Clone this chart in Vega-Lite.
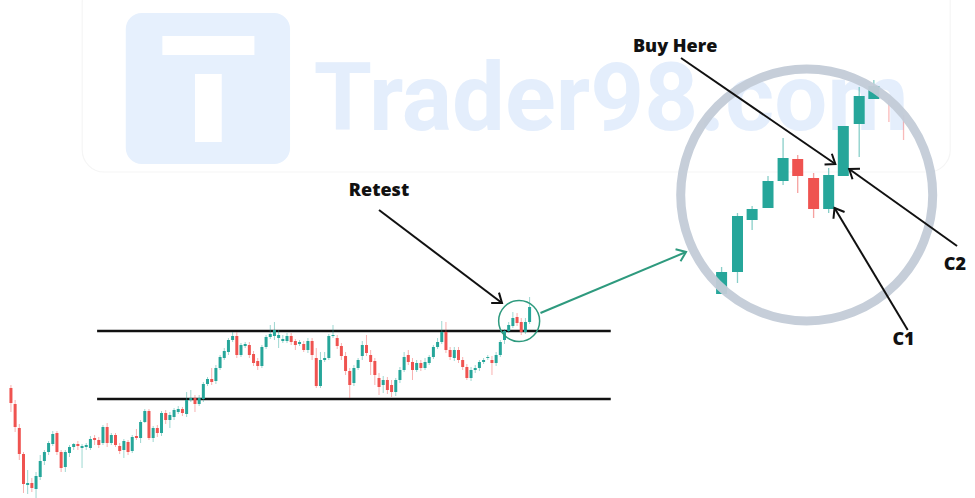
{
  "$schema": "https://vega.github.io/schema/vega-lite/v6.json",
  "width": 975,
  "height": 498,
  "autosize": {"type": "none"},
  "padding": 0,
  "background": "white",
  "config": {"view": {"stroke": null}},
  "datasets": {
    "frame": [{"t1": 17.04, "t2": 224.56, "p1": 518, "p2": 326}],
    "tile": [{"t1": 27.45, "t2": 66.73, "p1": 485, "p2": 334}],
    "glyph": [
      {"t1": 36.2, "t2": 58.21, "p1": 462, "p2": 443},
      {"t1": 44.01, "t2": 50.4, "p1": 424, "p2": 356}
    ],
    "brand": [{"t": 72.4, "p": 368, "label": "Trader98.com"}],
    "levels": [
      {"t1": 20.6, "t2": 143.4, "p": 167},
      {"t1": 20.6, "t2": 143.4, "p": 99}
    ],
    "main": [
      {"t":0,"o":110,"h":113,"l":86,"c":95},
      {"t":1,"o":94,"h":98,"l":66,"c":71},
      {"t":2,"o":70,"h":74,"l":38,"c":44},
      {"t":3,"o":44,"h":46,"l":5,"c":14},
      {"t":4,"o":13,"h":28,"l":4,"c":15},
      {"t":5,"o":15,"h":20,"l":6,"c":10},
      {"t":6,"o":9,"h":26,"l":0,"c":22},
      {"t":7,"o":21,"h":43,"l":18,"c":37},
      {"t":8,"o":37,"h":48,"l":33,"c":46},
      {"t":9,"o":46,"h":57,"l":43,"c":55},
      {"t":10,"o":54,"h":67,"l":52,"c":64},
      {"t":11,"o":65,"h":67,"l":43,"c":46},
      {"t":12,"o":46,"h":48,"l":26,"c":30},
      {"t":13,"o":31,"h":48,"l":26,"c":46},
      {"t":14,"o":45,"h":53,"l":41,"c":51},
      {"t":15,"o":51,"h":55,"l":48,"c":54},
      {"t":16,"o":54,"h":57,"l":48,"c":52},
      {"t":17,"o":50,"h":54,"l":30,"c":52},
      {"t":18,"o":51,"h":55,"l":48,"c":53},
      {"t":19,"o":50,"h":62,"l":48,"c":59},
      {"t":20,"o":60,"h":63,"l":53,"c":58},
      {"t":21,"o":58,"h":61,"l":50,"c":53},
      {"t":22,"o":55,"h":73,"l":53,"c":71},
      {"t":23,"o":71,"h":75,"l":51,"c":55},
      {"t":24,"o":55,"h":65,"l":53,"c":63},
      {"t":25,"o":63,"h":65,"l":51,"c":53},
      {"t":26,"o":52,"h":55,"l":44,"c":47},
      {"t":27,"o":48,"h":59,"l":40,"c":57},
      {"t":28,"o":56,"h":58,"l":43,"c":46},
      {"t":29,"o":47,"h":63,"l":45,"c":61},
      {"t":30,"o":62,"h":69,"l":58,"c":60},
      {"t":31,"o":60,"h":78,"l":55,"c":76},
      {"t":32,"o":76,"h":89,"l":75,"c":87},
      {"t":33,"o":87,"h":89,"l":58,"c":60},
      {"t":34,"o":60,"h":72,"l":56,"c":70},
      {"t":35,"o":70,"h":73,"l":61,"c":65},
      {"t":36,"o":65,"h":87,"l":62,"c":85},
      {"t":37,"o":85,"h":88,"l":74,"c":78},
      {"t":38,"o":78,"h":86,"l":70,"c":83},
      {"t":39,"o":81,"h":90,"l":78,"c":88},
      {"t":40,"o":86,"h":92,"l":84,"c":89},
      {"t":41,"o":89,"h":91,"l":82,"c":85},
      {"t":42,"o":84,"h":106,"l":81,"c":98},
      {"t":43,"o":98,"h":108,"l":96,"c":100},
      {"t":44,"o":100,"h":103,"l":86,"c":94},
      {"t":45,"o":94,"h":103,"l":92,"c":100},
      {"t":46,"o":99,"h":116,"l":96,"c":114},
      {"t":47,"o":114,"h":121,"l":112,"c":119},
      {"t":48,"o":119,"h":130,"l":113,"c":116},
      {"t":49,"o":117,"h":133,"l":114,"c":130},
      {"t":50,"o":130,"h":143,"l":128,"c":141},
      {"t":51,"o":140,"h":150,"l":138,"c":147},
      {"t":52,"o":146,"h":160,"l":143,"c":158},
      {"t":53,"o":158,"h":166,"l":156,"c":162},
      {"t":54,"o":162,"h":166,"l":140,"c":143},
      {"t":55,"o":143,"h":155,"l":141,"c":153},
      {"t":56,"o":152,"h":156,"l":150,"c":154},
      {"t":57,"o":153,"h":156,"l":140,"c":143},
      {"t":58,"o":144,"h":147,"l":132,"c":135},
      {"t":59,"o":137,"h":140,"l":128,"c":132},
      {"t":60,"o":132,"h":153,"l":130,"c":151},
      {"t":61,"o":151,"h":163,"l":149,"c":161},
      {"t":62,"o":161,"h":173,"l":159,"c":164},
      {"t":63,"o":162,"h":176,"l":158,"c":168},
      {"t":64,"o":160,"h":168,"l":150,"c":163},
      {"t":65,"o":157,"h":163,"l":155,"c":159},
      {"t":66,"o":157,"h":165,"l":155,"c":162},
      {"t":67,"o":162,"h":165,"l":153,"c":156},
      {"t":68,"o":157,"h":159,"l":148,"c":153},
      {"t":69,"o":154,"h":158,"l":152,"c":156},
      {"t":70,"o":154,"h":157,"l":146,"c":148},
      {"t":71,"o":148,"h":160,"l":145,"c":157},
      {"t":72,"o":157,"h":160,"l":138,"c":143},
      {"t":73,"o":140,"h":150,"l":110,"c":112},
      {"t":74,"o":112,"h":146,"l":110,"c":138},
      {"t":75,"o":138,"h":146,"l":136,"c":140},
      {"t":76,"o":140,"h":164,"l":138,"c":162},
      {"t":77,"o":162,"h":173,"l":160,"c":163},
      {"t":78,"o":160,"h":163,"l":149,"c":152},
      {"t":79,"o":152,"h":155,"l":138,"c":142},
      {"t":80,"o":142,"h":146,"l":123,"c":127},
      {"t":81,"o":127,"h":130,"l":100,"c":113},
      {"t":82,"o":115,"h":133,"l":112,"c":130},
      {"t":83,"o":130,"h":140,"l":128,"c":138},
      {"t":84,"o":142,"h":157,"l":138,"c":153},
      {"t":85,"o":153,"h":163,"l":142,"c":145},
      {"t":86,"o":143,"h":148,"l":123,"c":136},
      {"t":87,"o":137,"h":140,"l":113,"c":123},
      {"t":88,"o":120,"h":125,"l":103,"c":111},
      {"t":89,"o":113,"h":122,"l":105,"c":118},
      {"t":90,"o":118,"h":121,"l":104,"c":108},
      {"t":91,"o":113,"h":118,"l":101,"c":106},
      {"t":92,"o":106,"h":120,"l":102,"c":118},
      {"t":93,"o":118,"h":131,"l":115,"c":128},
      {"t":94,"o":128,"h":146,"l":126,"c":141},
      {"t":95,"o":143,"h":148,"l":133,"c":136},
      {"t":96,"o":136,"h":140,"l":118,"c":128},
      {"t":97,"o":128,"h":138,"l":126,"c":135},
      {"t":98,"o":135,"h":138,"l":127,"c":130},
      {"t":99,"o":130,"h":140,"l":128,"c":136},
      {"t":100,"o":135,"h":143,"l":133,"c":141},
      {"t":101,"o":141,"h":153,"l":139,"c":151},
      {"t":102,"o":151,"h":160,"l":149,"c":156},
      {"t":103,"o":156,"h":177,"l":154,"c":166},
      {"t":104,"o":166,"h":176,"l":145,"c":148},
      {"t":105,"o":148,"h":151,"l":138,"c":141},
      {"t":106,"o":140,"h":151,"l":137,"c":148},
      {"t":107,"o":148,"h":151,"l":135,"c":138},
      {"t":108,"o":138,"h":141,"l":128,"c":131},
      {"t":109,"o":131,"h":134,"l":118,"c":120},
      {"t":110,"o":120,"h":131,"l":117,"c":128},
      {"t":111,"o":128,"h":133,"l":125,"c":130},
      {"t":112,"o":130,"h":138,"l":127,"c":136},
      {"t":113,"o":136,"h":140,"l":134,"c":138},
      {"t":114,"o":140,"h":143,"l":138,"c":141},
      {"t":115,"o":138,"h":142,"l":123,"c":135},
      {"t":116,"o":135,"h":146,"l":132,"c":143},
      {"t":117,"o":143,"h":158,"l":141,"c":156},
      {"t":118,"o":158,"h":169,"l":154,"c":167},
      {"t":119,"o":167,"h":176,"l":165,"c":173},
      {"t":120,"o":172,"h":186,"l":170,"c":180},
      {"t":121,"o":181,"h":185,"l":172,"c":175},
      {"t":122,"o":176,"h":180,"l":163,"c":166},
      {"t":123,"o":166,"h":180,"l":164,"c":176},
      {"t":124,"o":176,"h":201,"l":174,"c":191}
    ],
    "zoom": [
      {"t":169.9,"o":204,"h":231,"l":204,"c":226},
      {"t":173.7,"o":226,"h":285,"l":215,"c":282},
      {"t":177.2,"o":278,"h":292,"l":268,"c":289},
      {"t":181.0,"o":290,"h":322,"l":290,"c":317},
      {"t":184.6,"o":317,"h":360,"l":313,"c":340},
      {"t":188.1,"o":339,"h":343,"l":305,"c":322},
      {"t":191.9,"o":320,"h":325,"l":280,"c":289},
      {"t":195.5,"o":289,"h":330,"l":285,"c":323},
      {"t":199.0,"o":322,"h":372,"l":322,"c":372},
      {"t":202.8,"o":374,"h":411,"l":341,"c":402},
      {"t":206.3,"o":399,"h":418,"l":399,"c":412}
    ],
    "ghost": [
      {"t":209.9,"h":398,"l":376},
      {"t":213.4,"h":383,"l":358}
    ],
    "retestRing": [{"t": 121.5, "p": 177}],
    "zoomRing": [{"t": 190.25, "p": 303}],
    "arrows": [
      {"kind":"callout","t1":88.0,"p1":288,"t2":117.4,"p2":195,"heading":36.9},
      {"kind":"callout","t1":160.2,"p1":440,"t2":197.1,"p2":334,"heading":34.2},
      {"kind":"callout","t1":226.2,"p1":252,"t2":200.4,"p2":329,"heading":-144.8},
      {"kind":"callout","t1":214.4,"p1":168,"t2":196.9,"p2":290,"heading":-121.2},
      {"kind":"link","t1":126.6,"p1":185,"t2":161.4,"p2":246,"heading":-22.5}
    ],
    "labels": [
      {"t": 88.0, "p": 307, "label": "Retest"},
      {"t": 158.8, "p": 451, "label": "Buy Here"},
      {"t": 213.4, "p": 158, "label": "C1"},
      {"t": 225.7, "p": 233, "label": "C2"}
    ]
  },
  "layer": [
    {
      "data": {"name": "frame"},
      "mark": {"type": "rect", "filled": false, "stroke": "#f5f5f5", "strokeWidth": 1.2, "cornerRadius": 22},
      "encoding": {
        "x": {"field": "t1", "type": "quantitative", "scale": {"domain": [-1.42, 229.29], "nice": false, "zero": false}, "axis": null},
        "x2": {"field": "t2"},
        "y": {"field": "p1", "type": "quantitative", "scale": {"domain": [0, 498], "nice": false, "zero": false}, "axis": null},
        "y2": {"field": "p2"}
      }
    },
    {
      "data": {"name": "tile"},
      "mark": {"type": "rect", "fill": "#e6f0fd", "cornerRadius": 16},
      "encoding": {
        "x": {"field": "t1", "type": "quantitative"},
        "x2": {"field": "t2"},
        "y": {"field": "p1", "type": "quantitative"},
        "y2": {"field": "p2"}
      }
    },
    {
      "data": {"name": "glyph"},
      "mark": {"type": "rect", "fill": "#ffffff"},
      "encoding": {
        "x": {"field": "t1", "type": "quantitative"},
        "x2": {"field": "t2"},
        "y": {"field": "p1", "type": "quantitative"},
        "y2": {"field": "p2"}
      }
    },
    {
      "data": {"name": "brand"},
      "mark": {"type": "text", "font": "Roboto", "fontWeight": "bold", "fontSize": 94, "align": "left", "baseline": "alphabetic", "fill": "#e4eefc"},
      "encoding": {
        "x": {"field": "t", "type": "quantitative"},
        "y": {"field": "p", "type": "quantitative"},
        "text": {"field": "label"}
      }
    },
    {
      "data": {"name": "levels"},
      "mark": {"type": "rule", "stroke": "#111111", "strokeWidth": 2.5},
      "encoding": {
        "x": {"field": "t1", "type": "quantitative"},
        "x2": {"field": "t2"},
        "y": {"field": "p", "type": "quantitative"}
      }
    },
    {
      "data": {"name": "main"},
      "mark": {"type": "rule", "strokeWidth": 1, "opacity": 0.45},
      "encoding": {
        "x": {"field": "t", "type": "quantitative"},
        "y": {"field": "l", "type": "quantitative"},
        "y2": {"field": "h"},
        "color": {"condition": {"test": "datum.c < datum.o", "value": "#ef5350"}, "value": "#26a69a"}
      }
    },
    {
      "data": {"name": "main"},
      "mark": {"type": "bar", "orient": "vertical", "width": 3},
      "encoding": {
        "x": {"field": "t", "type": "quantitative"},
        "y": {"field": "o", "type": "quantitative"},
        "y2": {"field": "c"},
        "color": {"condition": {"test": "datum.c < datum.o", "value": "#ef5350"}, "value": "#26a69a"}
      }
    },
    {
      "data": {"name": "retestRing"},
      "mark": {"type": "point", "shape": "circle", "size": 1681, "filled": false, "stroke": "#2e9a7e", "strokeWidth": 1.5, "opacity": 1},
      "encoding": {
        "x": {"field": "t", "type": "quantitative"},
        "y": {"field": "p", "type": "quantitative"}
      }
    },
    {
      "data": {"name": "ghost"},
      "mark": {"type": "rule", "stroke": "#ef5350", "strokeWidth": 1.3, "opacity": 0.4},
      "encoding": {
        "x": {"field": "t", "type": "quantitative"},
        "y": {"field": "l", "type": "quantitative"},
        "y2": {"field": "h"}
      }
    },
    {
      "data": {"name": "zoom"},
      "mark": {"type": "rule", "strokeWidth": 1.3, "opacity": 0.55},
      "encoding": {
        "x": {"field": "t", "type": "quantitative"},
        "y": {"field": "l", "type": "quantitative"},
        "y2": {"field": "h"},
        "color": {"condition": {"test": "datum.c < datum.o", "value": "#ef5350"}, "value": "#26a69a"}
      }
    },
    {
      "data": {"name": "zoom"},
      "mark": {"type": "bar", "orient": "vertical", "width": 11},
      "encoding": {
        "x": {"field": "t", "type": "quantitative"},
        "y": {"field": "o", "type": "quantitative"},
        "y2": {"field": "c"},
        "color": {"condition": {"test": "datum.c < datum.o", "value": "#ef5350"}, "value": "#26a69a"}
      }
    },
    {
      "data": {"name": "zoomRing"},
      "mark": {"type": "point", "shape": "circle", "size": 63504, "filled": false, "stroke": "#c3ccd8", "strokeWidth": 9, "opacity": 0.95},
      "encoding": {
        "x": {"field": "t", "type": "quantitative"},
        "y": {"field": "p", "type": "quantitative"}
      }
    },
    {
      "data": {"name": "arrows"},
      "mark": {"type": "rule", "strokeWidth": 2},
      "encoding": {
        "x": {"field": "t1", "type": "quantitative"},
        "y": {"field": "p1", "type": "quantitative"},
        "x2": {"field": "t2"},
        "y2": {"field": "p2"},
        "color": {"condition": {"test": "datum.kind == 'link'", "value": "#2e9a7e"}, "value": "#111111"}
      }
    },
    {
      "data": {"name": "arrows"},
      "mark": {"type": "point", "shape": "M -1 -0.75 L 0 0 L -1 0.75", "size": 300, "filled": false, "strokeWidth": 2, "opacity": 1},
      "encoding": {
        "x": {"field": "t2", "type": "quantitative"},
        "y": {"field": "p2", "type": "quantitative"},
        "angle": {"field": "heading", "type": "quantitative", "scale": null},
        "color": {"condition": {"test": "datum.kind == 'link'", "value": "#2e9a7e"}, "value": "#111111"}
      }
    },
    {
      "data": {"name": "labels"},
      "mark": {"type": "text", "font": "Open Sans", "fontWeight": 800, "fontSize": 18, "align": "center", "baseline": "middle", "fill": "#111111"},
      "encoding": {
        "x": {"field": "t", "type": "quantitative"},
        "y": {"field": "p", "type": "quantitative"},
        "text": {"field": "label"}
      }
    }
  ]
}
